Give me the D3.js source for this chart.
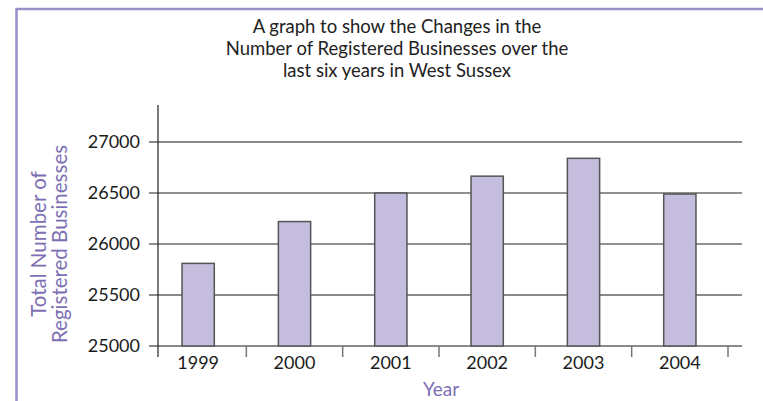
<!DOCTYPE html>
<html>
<head>
<meta charset="utf-8">
<script src="https://cdn.jsdelivr.net/npm/d3@7"></script>
<style>
  html, body { margin: 0; padding: 0; background: #fff; }
  svg text { font-family: Lato, "Open Sans", sans-serif; }
</style>
</head>
<body>
<svg id="chart" width="763" height="401"></svg>
<script>
const years = ["1999", "2000", "2001", "2002", "2003", "2004"];
const businesses = [25810, 26220, 26500, 26665, 26840, 26490];
const yTicks = [25000, 25500, 26000, 26500, 27000];
const titleLines = [
  "A graph to show the Changes in the",
  "Number of Registered Businesses over the",
  "last six years in West Sussex"
];
const yTitleLines = ["Total Number of", "Registered Businesses"];
const xTitle = "Year";

const svg = d3.select("#chart");
const purple = "#7d6fb3";

// frame
svg.append("path")
  .attr("d", "M16.5,401 L16.5,9 L763,9")
  .attr("fill", "none")
  .attr("stroke", "#9b8fc9")
  .attr("stroke-width", 2.5);

// title
svg.append("text")
  .attr("x", 397).attr("y", 33)
  .attr("text-anchor", "middle")
  .attr("font-size", 18.5)
  .attr("fill", "#222")
  .selectAll("tspan").data(titleLines).join("tspan")
  .attr("x", 397)
  .attr("dy", (d, i) => i === 0 ? 0 : 22)
  .text(d => d);

const x = d3.scaleBand().domain(years).range([150, 728]).padding(0);
const y = d3.scaleLinear().domain([25000, 27000]).range([346, 142]);

const gridLeft = 149, gridRight = 742;

// gridlines (incl. baseline)
const darkTicks = [26000, 26500];
svg.append("g").selectAll("line").data(yTicks).join("line")
  .attr("x1", gridLeft).attr("x2", gridRight)
  .attr("y1", d => y(d)).attr("y2", d => y(d))
  .attr("stroke", d => darkTicks.includes(d) ? "#222" : "#8a8a8a")
  .attr("stroke-width", d => darkTicks.includes(d) ? 1.2 : 1.8);

// y axis line
svg.append("line")
  .attr("x1", 158).attr("x2", 158)
  .attr("y1", 105).attr("y2", 357)
  .attr("stroke", "#222").attr("stroke-width", 1.2);

// y tick labels
svg.append("g").selectAll("text").data(yTicks).join("text")
  .attr("x", 140).attr("y", d => y(d))
  .attr("dy", "0.36em")
  .attr("text-anchor", "end")
  .attr("font-size", 18)
  .attr("fill", "#1a1a1a")
  .text(d => d);

// x ticks at band boundaries
svg.append("g").selectAll("line").data(years).join("line")
  .attr("x1", d => x(d) + x.bandwidth()).attr("x2", d => x(d) + x.bandwidth())
  .attr("y1", 346).attr("y2", 357)
  .attr("stroke", "#777").attr("stroke-width", 1.5);

// bars
const barW = x.bandwidth() * 0.335;
svg.append("g").selectAll("rect").data(years).join("rect")
  .attr("x", d => x(d) + x.bandwidth() / 2 - barW / 2)
  .attr("y", (d, i) => y(businesses[i]))
  .attr("width", barW)
  .attr("height", (d, i) => y(25000) - y(businesses[i]))
  .attr("fill", "#c4bddd")
  .attr("stroke", "#555")
  .attr("stroke-width", 1.5);

// x tick labels
svg.append("g").selectAll("text").data(years).join("text")
  .attr("x", d => x(d) + x.bandwidth() / 2)
  .attr("y", 369)
  .attr("text-anchor", "middle")
  .attr("font-size", 18)
  .attr("fill", "#1a1a1a")
  .text(d => d);

// x title
svg.append("text")
  .attr("x", 441).attr("y", 396)
  .attr("text-anchor", "middle")
  .attr("font-size", 19)
  .attr("fill", purple)
  .text(xTitle);

// y title
const yt = svg.append("text")
  .attr("transform", "translate(46,244) rotate(-90)")
  .attr("text-anchor", "middle")
  .attr("font-size", 20.5)
  .attr("fill", purple);
yt.selectAll("tspan").data(yTitleLines).join("tspan")
  .attr("x", 0)
  .attr("dy", (d, i) => i === 0 ? 0 : 21)
  .text(d => d);
</script>
</body>
</html>
